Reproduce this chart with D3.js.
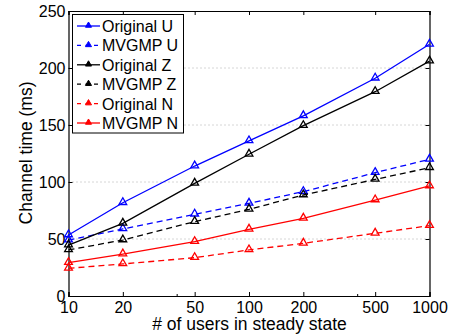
<!DOCTYPE html>
<html>
<head>
  <script src="https://cdn.jsdelivr.net/npm/d3@7"></script>
  <style>
    body { margin: 0; background: #fff; }
    text { font-family: "Liberation Sans", Arial, sans-serif; }
  </style>
</head>
<body>
  <script>

  var width = 463
  var height = 335

  var users = [10, 20, 50, 100, 200, 500, 1000];
  var yTicks = [0, 50, 100, 150, 200, 250];

  var originalU = [53.5, 81.8, 114, 136, 158, 191, 220.8];
  var mvgmpU    = [49, 58.8, 71.7, 81.3, 91.5, 108.2, 119.9];
  var originalZ = [44.7, 63.7, 98.8, 124.3, 149.4, 179.2, 206];
  var mvgmpZ    = [40.4, 49.1, 65.2, 76, 88.6, 102.3, 112.5];
  var originalN = [24.3, 28.1, 33.6, 40.4, 46.2, 55, 61.7];
  var mvgmpN    = [29.2, 36.8, 47.6, 58.5, 68.1, 84.2, 96.5];

  var series = [
    {name: "Original U", values: originalU, color: "#0000ff", dash: null},
    {name: "MVGMP U",    values: mvgmpU,    color: "#0000ff", dash: "6,4"},
    {name: "Original Z", values: originalZ, color: "#000000", dash: null},
    {name: "MVGMP Z",    values: mvgmpZ,    color: "#000000", dash: "6,4"},
    {name: "Original N", values: originalN, color: "#ff0000", dash: "6,4"},
    {name: "MVGMP N",    values: mvgmpN,    color: "#ff0000", dash: null}
  ];

  // plot box (window.top is read-only, so no bare "top")
  var pLeft = 68.5, pRight = 429.5, pTop = 11, pBottom = 296;

  var x = d3.scaleLog().domain([10, 1000]).range([pLeft, pRight]);
  var y = d3.scaleLinear().domain([0, 250]).range([pBottom, pTop]);

  var svg = d3.select("body").append("svg")
    .attr("width", width)
    .attr("height", height);

  // dotted horizontal grid
  svg.append("g").selectAll("line")
    .data(yTicks.filter(function(d) { return d > 0 && d < 250; }))
    .enter().append("line")
    .attr("x1", pLeft).attr("x2", pRight)
    .attr("y1", function(d) { return y(d); })
    .attr("y2", function(d) { return y(d); })
    .attr("stroke", "#999")
    .attr("stroke-width", 0.8)
    .attr("stroke-dasharray", "1,3");

  var fmt = function(d) { return d; };

  var xAxis = svg.append("g")
    .attr("transform", "translate(0," + pBottom + ")")
    .call(d3.axisBottom(x).tickValues(users).tickFormat(fmt).tickSize(-4).tickPadding(6));
  var xTop = svg.append("g")
    .attr("transform", "translate(0," + pTop + ")")
    .call(d3.axisTop(x).tickValues(users).tickFormat("").tickSize(-4));
  var yAxis = svg.append("g")
    .attr("transform", "translate(" + pLeft + ",0)")
    .call(d3.axisLeft(y).tickValues(yTicks).tickFormat(fmt).tickSize(-4).tickPadding(3));
  var yRight = svg.append("g")
    .attr("transform", "translate(" + pRight + ",0)")
    .call(d3.axisRight(y).tickValues(yTicks).tickFormat("").tickSize(-4));

  // minor log ticks
  svg.append("g").selectAll("line")
    .data([40, 400])
    .enter().append("line")
    .attr("x1", function(d) { return x(d); })
    .attr("x2", function(d) { return x(d); })
    .attr("y1", pBottom).attr("y2", pBottom - 2)
    .attr("stroke", "#000");

  [xAxis, xTop, yAxis, yRight].forEach(function(g) {
    g.select(".domain").attr("stroke", "#000").attr("stroke-width", 1.2);
    g.selectAll(".tick line").attr("stroke", "#000");
    g.selectAll("text").attr("font-size", 16).attr("fill", "#000")
      .style("font-family", "Liberation Sans, Arial, sans-serif");
  });

  var line = d3.line()
    .x(function(d, i) { return x(users[i]); })
    .y(function(d) { return y(d); });

  var tri = d3.symbol().type(d3.symbolTriangle).size(26);

  series.forEach(function(s) {
    svg.append("path")
      .attr("d", line(s.values))
      .attr("fill", "none")
      .attr("stroke", s.color)
      .attr("stroke-width", 1.3)
      .attr("stroke-dasharray", s.dash);
    svg.append("g").selectAll("path")
      .data(s.values)
      .enter().append("path")
      .attr("d", tri)
      .attr("transform", function(d, i) { return "translate(" + x(users[i]) + "," + (y(d) - 0.5) + ")"; })
      .attr("fill", "none")
      .attr("stroke", s.color)
      .attr("stroke-width", 1.3);
  });

  // legend
  var legend = svg.append("g");
  legend.append("rect")
    .attr("x", 72.5).attr("y", 14.5)
    .attr("width", 111).attr("height", 118.5)
    .attr("fill", "#fff").attr("stroke", "#000").attr("stroke-width", 1);

  var row = legend.selectAll(".row")
    .data(series).enter().append("g")
    .attr("transform", function(d, i) { return "translate(0," + (26 + i * 19.4) + ")"; });
  row.append("line")
    .attr("x1", 77).attr("x2", 100)
    .attr("stroke", function(d) { return d.color; })
    .attr("stroke-width", 1.3)
    .attr("stroke-dasharray", function(d) { return d.dash ? "4,4.5" : null; });
  row.append("path")
    .attr("d", d3.symbol().type(d3.symbolTriangle).size(16))
    .attr("transform", "translate(88.5,-0.5)")
    .attr("fill", function(d) { return d.color; })
    .attr("stroke", function(d) { return d.color; });
  row.append("text")
    .attr("x", 102).attr("y", 6)
    .attr("font-size", 16)
    .text(function(d) { return d.name; });

  // axis titles
  svg.append("text")
    .attr("x", (pLeft + pRight) / 2 + 0.5).attr("y", 330)
    .attr("text-anchor", "middle")
    .attr("font-size", 17.5)
    .text("# of users in steady state");
  svg.append("text")
    .attr("transform", "translate(32,153) rotate(-90)")
    .attr("text-anchor", "middle")
    .attr("font-size", 17.5)
    .text("Channel time (ms)");

  </script>
</body>
</html>
